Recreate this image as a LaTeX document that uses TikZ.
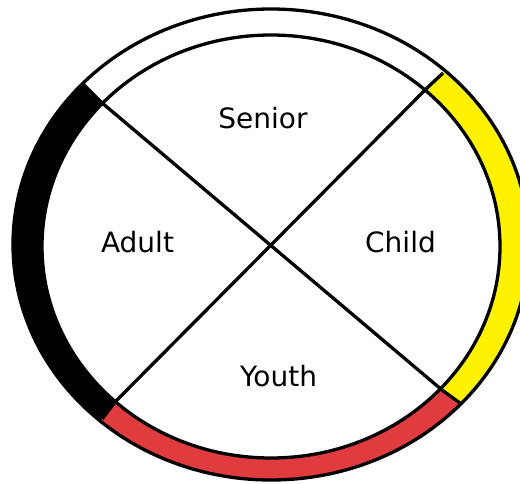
\documentclass[tikz,border=0pt]{standalone}
\usepackage{fontspec}
\setmainfont{DejaVu Sans}
\definecolor{wheelred}{RGB}{224,60,64}
\definecolor{wheelyellow}{RGB}{255,242,0}
\begin{document}
\begin{tikzpicture}[x=1pt,y=-1pt,line width=3.3pt,
  quarterlabel/.style={font=\fontsize{28}{32}\selectfont,anchor=base,inner sep=0pt},
  ringline/.style={line width=3.3pt,black}]
\useasboundingbox (0,0) rectangle (520,483);
\clip (0,0) rectangle (520,483);
% centres
\coordinate (oc) at (271,244.5);
\coordinate (ic) at (271,246.5);
\coordinate (c) at (271,246);
% boundary points: inner (i..) and outer (o..)
\coordinate (iTL) at (101,102);
\coordinate (oTL) at (83,84);
\coordinate (iTR) at (427,88);
\coordinate (oTR) at (443,73);
\coordinate (iBR) at (442,390);
\coordinate (oBR) at (460,403);
\coordinate (iBL) at (115,402);
\coordinate (oBL) at (102,419);
% far points
\coordinate (eTL) at (-7,-6);
\coordinate (eTR) at (523,-2);
\coordinate (eBR) at (550,468);
\coordinate (eBL) at (37,504);
% coloured ring segments
\begin{scope}
  \clip (oc) ellipse [x radius=258pt, y radius=235.5pt];
  \fill[black] (c) -- (iTL) -- (eTL) -- (-100,246) -- (eBL) -- (iBL) -- cycle;
  \fill[wheelred] (c) -- (iBL) -- (eBL) -- (271,600) -- (eBR) -- (iBR) -- cycle;
  \fill[wheelyellow] (c) -- (iBR) -- (eBR) -- (650,246) -- (eTR) -- (iTR) -- cycle;
\end{scope}
\fill[white] (ic) ellipse [x radius=229pt, y radius=211.5pt];
% outlines
\draw[ringline] (oc) ellipse [x radius=258pt, y radius=235.5pt];
\draw[ringline] (ic) ellipse [x radius=229pt, y radius=211.5pt];
\draw[ringline] (iTL) -- (oTL);
\draw[ringline] (iTR) -- (oTR);
\draw[ringline] (iBR) -- (oBR);
\draw[ringline] (iBL) -- (oBL);
% dividers
\draw[ringline] (iTL) -- (iBR);
\draw[ringline] (iTR) -- (iBL);
% labels
\node[quarterlabel] (senior) at (263,128) {Senior};
\node[quarterlabel] (adult) at (137.5,252) {Adult};
\node[quarterlabel] (child) at (400.5,252) {Child};
\node[quarterlabel] (youth) at (278.5,386) {Youth};
\end{tikzpicture}
\end{document}
